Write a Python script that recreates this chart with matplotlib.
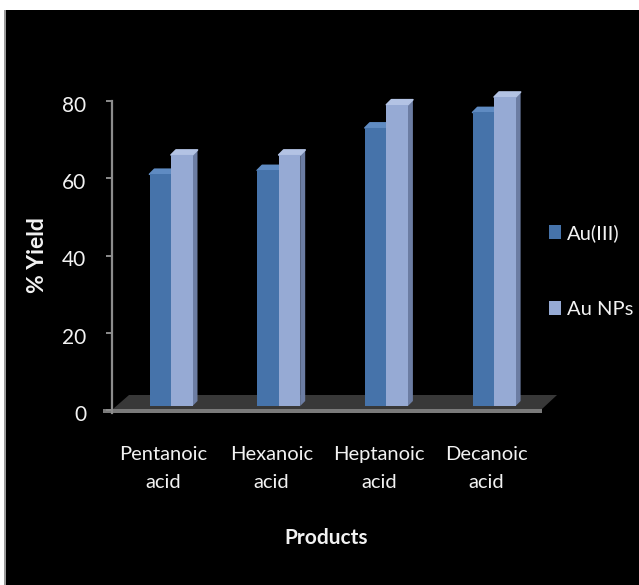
import matplotlib
matplotlib.use("Agg")
import matplotlib.pyplot as plt
import numpy as np
from matplotlib.patches import Polygon, Rectangle
from matplotlib.transforms import ScaledTranslation

plt.rcParams['font.family'] = ['Lato', 'DejaVu Sans']

# ---- data ----
categories = ["Pentanoic\nacid", "Hexanoic\nacid", "Heptanoic\nacid", "Decanoic\nacid"]
series_names = ["Au(III)", "Au NPs"]
au_iii = [60, 61, 72, 76]
au_nps = [65, 65, 78, 80]
y_ticks = [0, 20, 40, 60, 80]

# ---- styling ----
front_cols = ["#4673AA", "#96AAD4"]
cap_cols = ["#5F8BC2", "#B3C3E4"]
side_cols = ["#36598A", "#6C7DA3"]
axis_grey = "#8C8C8C"
text_col = "#F2F2F2"

W, H = 639, 585
fig = plt.figure(figsize=(W / 100, H / 100), dpi=100, facecolor="black")

# white page margin on the top and left edges
fig.patches.append(Rectangle((0, (H - 10) / H), 1, 10 / H, transform=fig.transFigure,
                             facecolor="white", edgecolor="none", zorder=0))
fig.patches.append(Rectangle((0, 0), 4 / W, 1, transform=fig.transFigure,
                             facecolor="white", edgecolor="none", zorder=0))
fig.patches.append(Rectangle((4 / W, 0), 2 / W, (H - 10) / H, transform=fig.transFigure,
                             facecolor="#9a9a9a", edgecolor="none", zorder=0))

# plot area in pixels
ax_l, ax_r, ax_top, ax_bot = 112, 557, 101, 410
ax = fig.add_axes([ax_l / W, (H - ax_bot) / H, (ax_r - ax_l) / W, (ax_bot - ax_top) / H])
ax.set_facecolor("none")

group_px = 107.7            # pixel distance between category groups
first_px = 171              # pixel position of first group centre
ax.set_xlim((ax_l - first_px) / group_px, (ax_r - first_px) / group_px)
ax.set_ylim(0, 80)
px_x = group_px
px_y = (ax_bot - ax_top) / 80.0

x = np.arange(len(categories))
w = 21.5 / group_px
ddx = 5 / px_x             # depth of the 3-D columns
ddy = 5 / px_y

# columns sit slightly behind the floor's front edge
lift = ax.transData + ScaledTranslation(0, 4 / 100, fig.dpi_scale_trans)

# floor of the 3-D chart
floor = Polygon([(1 / 445, 1 / 309), (17 / 445, 15 / 309), (1.0, 15 / 309), (430 / 445, 1 / 309)],
                closed=True, transform=ax.transAxes, facecolor="#383838", edgecolor="none",
                clip_on=False, zorder=1)
ax.add_patch(floor)
front_strip = Rectangle((-9 / 445, -3 / 309), 439 / 445, 4 / 309, transform=ax.transAxes,
                        facecolor="#7A7A7A", edgecolor="none", clip_on=False, zorder=1)
ax.add_patch(front_strip)

for k, (vals, off) in enumerate([(au_iii, -w / 2), (au_nps, w / 2)]):
    bars = ax.bar(x + off, vals, width=w, color=front_cols[k], edgecolor="none",
                  label=series_names[k], zorder=3 + 2 * k)
    for b in bars:
        b.set_transform(lift)
        b.set_clip_on(False)
        x0 = b.get_x()
        x1 = x0 + b.get_width()
        h = b.get_height()
        side = Polygon([(x1, 0), (x1, h), (x1 + ddx, h + ddy), (x1 + ddx, ddy)], closed=True,
                       transform=lift, facecolor=side_cols[k], edgecolor="none",
                       clip_on=False, zorder=2 + 2 * k)
        cap = Polygon([(x0, h), (x1, h), (x1 + ddx, h + ddy), (x0 + ddx, h + ddy)], closed=True,
                      transform=lift, facecolor=cap_cols[k], edgecolor=cap_cols[k],
                      linewidth=1.2, joinstyle="round", clip_on=False, zorder=2 + 2 * k)
        ax.add_patch(side)
        ax.add_patch(cap)

# axes
for s in ["top", "right", "bottom"]:
    ax.spines[s].set_visible(False)
ax.spines["left"].set_color(axis_grey)
ax.spines["left"].set_linewidth(1.6)
ax.spines["left"].set_zorder(10)
ax.spines["left"].set_bounds(-0.8, 80)

ax.set_yticks(y_ticks)
ax.set_yticklabels([str(t) for t in y_ticks])
ax.tick_params(axis="y", colors=axis_grey, labelcolor=text_col, length=4.5, width=1.4,
               direction="out", pad=14, labelsize=15)
for lab in ax.get_yticklabels():
    lab.set_transform(lab.get_transform() + ScaledTranslation(0, -3 / 100, fig.dpi_scale_trans))

ax.set_xticks(x - 7.5 / group_px)
ax.set_xticklabels(categories, linespacing=1.75)
ax.tick_params(axis="x", length=0, pad=26, labelsize=14.5, labelcolor=text_col)

fig.text(38 / W, 1 - 255 / H, "% Yield", rotation=90, ha="center", va="center",
         fontsize=16.5, fontweight="bold", color=text_col)
fig.text(326 / W, 1 - 538 / H, "Products", ha="center", va="center",
         fontsize=15, fontweight="bold", color=text_col)

handles = [Rectangle((0, 0), 1, 1, facecolor=front_cols[0], edgecolor="none"),
           Rectangle((0, 0), 1, 1, facecolor=front_cols[1], edgecolor="none")]
leg = fig.legend(handles, series_names, loc="center left",
                 bbox_to_anchor=(549 / W, 1 - 271 / H), frameon=False,
                 fontsize=14.5, labelcolor=text_col, handlelength=0.58, handleheight=0.68,
                 handletextpad=0.3, labelspacing=2.95, borderpad=0, borderaxespad=0)

fig.savefig("out.png", dpi=100, facecolor="black")
